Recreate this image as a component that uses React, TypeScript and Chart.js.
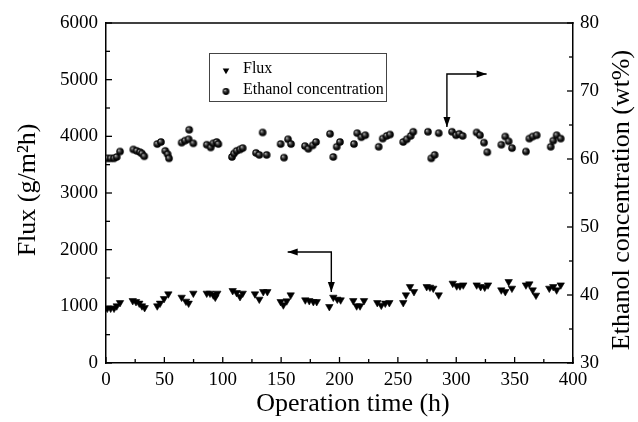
import React, { useEffect, useRef } from 'react';
import { Chart, registerables } from 'chart.js';

Chart.register(...registerables);

// ---------- data ----------
const fluxHours = [1.1, 4.0, 6.9, 9.2, 12.0, 22.9, 25.7, 28.5, 30.8, 33.1, 43.9, 46.3, 49.7, 53.4, 64.8, 68.5, 70.8, 74.8, 86.3, 89.1, 91.9, 93.6, 95.3, 108.5, 111.9, 114.8, 117.1, 127.6, 131.3, 134.7, 138.2, 149.6, 151.9, 154.8, 158.2, 170.7, 174.1, 177.6, 180.5, 191.3, 194.7, 198.1, 201.0, 211.8, 214.7, 217.6, 221.0, 232.4, 235.8, 239.2, 242.7, 254.6, 256.9, 260.4, 263.8, 274.7, 277.5, 280.3, 285.0, 297.0, 300.4, 303.2, 306.0, 317.5, 320.9, 324.4, 327.2, 338.6, 342.0, 344.9, 347.7, 359.7, 362.6, 365.5, 368.3, 379.7, 383.1, 386.0, 389.5];
const fluxValues = [965, 965, 965, 1006, 1064, 1099, 1082, 1054, 1006, 976, 1006, 1054, 1135, 1218, 1159, 1089, 1054, 1230, 1230, 1230, 1200, 1159, 1230, 1276, 1241, 1170, 1230, 1218, 1124, 1258, 1258, 1082, 1024, 1094, 1200, 1112, 1099, 1082, 1082, 994, 1159, 1124, 1112, 1099, 1006, 1006, 1099, 1064, 1018, 1054, 1064, 1064, 1200, 1346, 1258, 1346, 1336, 1318, 1200, 1406, 1359, 1359, 1376, 1376, 1346, 1336, 1376, 1288, 1258, 1435, 1318, 1376, 1394, 1288, 1195, 1318, 1346, 1288, 1376];

const ethanolHours = [1.1, 4.0, 6.9, 9.2, 12.0, 23.4, 26.3, 29.1, 30.8, 32.8, 43.9, 47.1, 50.8, 52.8, 54.0, 64.8, 67.7, 71.3, 70.8, 74.8, 86.3, 89.7, 91.9, 94.8, 96.2, 107.9, 109.6, 111.9, 114.8, 117.1, 128.5, 131.3, 134.2, 137.6, 149.6, 152.5, 155.9, 158.5, 170.4, 173.3, 177.0, 179.9, 191.9, 194.7, 197.6, 200.4, 212.4, 215.2, 218.7, 222.1, 233.6, 237.0, 240.4, 243.3, 254.6, 257.6, 261.0, 263.2, 275.8, 278.6, 281.5, 285.0, 296.4, 299.8, 302.6, 305.5, 317.5, 320.3, 323.8, 326.6, 338.6, 342.0, 344.9, 347.8, 359.7, 362.6, 365.5, 368.9, 380.9, 383.1, 386.0, 389.5];
const ethanolValues = [60.1, 60.1, 60.1, 60.3, 61.1, 61.4, 61.2, 61.0, 60.8, 60.4, 62.2, 62.5, 61.2, 60.7, 60.1, 62.4, 62.7, 64.3, 62.9, 62.3, 62.1, 61.7, 62.3, 62.5, 62.2, 60.3, 60.8, 61.2, 61.4, 61.6, 60.9, 60.6, 63.9, 60.6, 62.2, 60.2, 62.9, 62.2, 61.9, 61.5, 62.0, 62.5, 63.7, 60.3, 61.8, 62.5, 62.2, 63.8, 63.2, 63.5, 61.8, 63.0, 63.4, 63.6, 62.5, 62.9, 63.4, 64.0, 64.0, 60.1, 60.6, 63.8, 64.0, 63.5, 63.7, 63.4, 63.9, 63.5, 62.4, 61.0, 62.1, 63.3, 62.6, 61.6, 61.1, 63.0, 63.3, 63.5, 61.8, 62.7, 63.5, 63.0];

const xTickValues = [0, 50, 100, 150, 200, 250, 300, 350, 400];
const fluxTickValues = [0, 1000, 2000, 3000, 4000, 5000, 6000];
const ethanolTickValues = [30, 40, 50, 60, 70, 80];

const seriesNames = ['Flux', 'Ethanol concentration'];
const xTitle = 'Operation time (h)';
const fluxTitle = 'Flux (g/m\u00B2h)';
const ethanolTitle = 'Ethanol concentration (wt%)';

// arrow paths (in data coordinates)
const fluxArrowHours = [155.6, 193, 193];
const fluxArrowFlux = [1959, 1959, 1253];
const ethanolArrowHours = [326, 292, 292];
const ethanolArrowEthanol = [72.5, 72.5, 64.7];

const FONT = '"Liberation Serif", "Times New Roman", serif';

function makeSphere(r: number): HTMLCanvasElement {
  const size = Math.ceil(r * 2) + 2;
  const c = document.createElement('canvas');
  c.width = size;
  c.height = size;
  const g = c.getContext('2d')!;
  const cx = size / 2, cy = size / 2;
  const grad = g.createRadialGradient(cx - r * 0.35, cy - r * 0.35, 0, cx, cy, r);
  grad.addColorStop(0, '#f4f4f4');
  grad.addColorStop(0.25, '#606060');
  grad.addColorStop(0.65, '#0c0c0c');
  grad.addColorStop(1, '#000');
  g.fillStyle = grad;
  g.beginPath();
  g.arc(cx, cy, r, 0, Math.PI * 2);
  g.fill();
  return c;
}

function drawHead(ctx: CanvasRenderingContext2D, fx: number, fy: number, tx: number, ty: number) {
  const ang = Math.atan2(ty - fy, tx - fx);
  const len = 10, hw = 3.5;
  ctx.beginPath();
  ctx.moveTo(tx, ty);
  ctx.lineTo(tx - len * Math.cos(ang) + hw * Math.sin(ang), ty - len * Math.sin(ang) - hw * Math.cos(ang));
  ctx.lineTo(tx - len * Math.cos(ang) - hw * Math.sin(ang), ty - len * Math.sin(ang) + hw * Math.cos(ang));
  ctx.closePath();
  ctx.fill();
}

function drawArrowPath(ctx: CanvasRenderingContext2D, pts: { x: number; y: number }[]) {
  ctx.beginPath();
  ctx.moveTo(pts[0].x, pts[0].y);
  for (let i = 1; i < pts.length; i++) ctx.lineTo(pts[i].x, pts[i].y);
  ctx.stroke();
  drawHead(ctx, pts[1].x, pts[1].y, pts[0].x, pts[0].y);
  const n = pts.length;
  drawHead(ctx, pts[n - 2].x, pts[n - 2].y, pts[n - 1].x, pts[n - 1].y);
}

const plainNumber = (v: any) => String(v);

export default function App() {
  const ref = useRef<HTMLCanvasElement | null>(null);

  useEffect(() => {
    if (!ref.current) return;
    const sphere = makeSphere(3.8);
    const legendSphere = makeSphere(3.4);

    const decorPlugin = {
      id: 'decor',
      afterDraw(chart: any) {
        const { ctx, chartArea: a, scales } = chart;
        const sx = scales.x, sy = scales.y, sy1 = scales.y1;
        ctx.save();
        ctx.strokeStyle = '#000';
        ctx.fillStyle = '#000';
        // top frame line
        ctx.lineWidth = 1.5;
        ctx.beginPath();
        ctx.moveTo(a.left - 0.75, a.top);
        ctx.lineTo(a.right + 0.75, a.top);
        ctx.stroke();
        // inward ticks
        ctx.lineWidth = 1.3;
        const tickSet = (vals: number[]) => {
          const out: { v: number; major: boolean }[] = [];
          for (let i = 0; i < vals.length; i++) {
            out.push({ v: vals[i], major: true });
            if (i < vals.length - 1) out.push({ v: (vals[i] + vals[i + 1]) / 2, major: false });
          }
          return out;
        };
        tickSet(xTickValues).forEach(t => {
          const px = sx.getPixelForValue(t.v);
          ctx.beginPath();
          ctx.moveTo(px, a.bottom);
          ctx.lineTo(px, a.bottom - (t.major ? 6 : 4));
          ctx.stroke();
        });
        tickSet(fluxTickValues).forEach(t => {
          const py = sy.getPixelForValue(t.v);
          ctx.beginPath();
          ctx.moveTo(a.left, py);
          ctx.lineTo(a.left + (t.major ? 6 : 4), py);
          ctx.stroke();
        });
        tickSet(ethanolTickValues).forEach(t => {
          const py = sy1.getPixelForValue(t.v);
          ctx.beginPath();
          ctx.moveTo(a.right, py);
          ctx.lineTo(a.right - (t.major ? 6 : 4), py);
          ctx.stroke();
        });

        // arrows
        ctx.lineWidth = 1.4;
        drawArrowPath(ctx, fluxArrowHours.map((h, i) => ({ x: sx.getPixelForValue(h), y: sy.getPixelForValue(fluxArrowFlux[i]) })));
        drawArrowPath(ctx, ethanolArrowHours.map((h, i) => ({ x: sx.getPixelForValue(h), y: sy1.getPixelForValue(ethanolArrowEthanol[i]) })));

        // legend
        const lx = 209.5, ly = 53.5, lw = 177, lh = 48;
        ctx.lineWidth = 1;
        ctx.strokeStyle = '#444';
        ctx.strokeRect(lx, ly, lw, lh);
        const tx = 226, ty = 70.5, tr = 3.8;
        ctx.beginPath();
        ctx.moveTo(tx, ty + tr);
        ctx.lineTo(tx + tr * Math.sin(Math.PI / 3), ty - tr / 2);
        ctx.lineTo(tx - tr * Math.sin(Math.PI / 3), ty - tr / 2);
        ctx.closePath();
        ctx.fill();
        ctx.drawImage(legendSphere, 226 - legendSphere.width / 2, 91.5 - legendSphere.height / 2);
        ctx.font = `16px ${FONT}`;
        ctx.textBaseline = 'middle';
        ctx.textAlign = 'left';
        ctx.fillText(seriesNames[0], 243, 69);
        ctx.fillText(seriesNames[1], 243, 90);

        // axis titles
        ctx.font = `26px ${FONT}`;
        ctx.textAlign = 'center';
        ctx.textBaseline = 'middle';
        ctx.fillText(xTitle, 353, 404);
        ctx.save();
        ctx.translate(28, 190);
        ctx.rotate(-Math.PI / 2);
        ctx.fillText(fluxTitle, 0, 0);
        ctx.restore();
        ctx.save();
        ctx.translate(622, 200);
        ctx.rotate(-Math.PI / 2);
        ctx.fillText(ethanolTitle, 0, 0);
        ctx.restore();
        ctx.restore();
      },
    };

    const tickFont = { family: FONT, size: 19 };
    const chart = new Chart(ref.current, {
      type: 'scatter',
      data: {
        datasets: [
          {
            label: seriesNames[0],
            data: fluxHours.map((h, i) => ({ x: h, y: fluxValues[i] })),
            yAxisID: 'y',
            pointStyle: 'triangle',
            rotation: 180,
            pointRadius: 4.3,
            backgroundColor: '#000',
            borderColor: '#000',
            borderWidth: 0.6,
          },
          {
            label: seriesNames[1],
            data: ethanolHours.map((h, i) => ({ x: h, y: ethanolValues[i] })),
            yAxisID: 'y1',
            pointStyle: sphere as any,
            pointRadius: 4,
            backgroundColor: '#000',
            borderColor: '#000',
          },
        ],
      },
      options: {
        animation: false,
        responsive: false,
        layout: { padding: { top: 23, left: 0, right: 0, bottom: 0 } },
        plugins: { legend: { display: false }, tooltip: { enabled: false } },
        scales: {
          x: {
            type: 'linear',
            position: 'bottom',
            min: 0,
            max: 400,
            afterBuildTicks: (s: any) => { s.ticks = xTickValues.map(v => ({ value: v })); },
            afterFit: (s: any) => { s.height = 59; },
            ticks: { font: tickFont, color: '#000', padding: 6, maxRotation: 0, autoSkip: false, callback: plainNumber },
            grid: { display: false, drawTicks: false },
            border: { display: true, color: '#000', width: 1.5 },
            title: { display: false },
          },
          y: {
            type: 'linear',
            position: 'left',
            min: 0,
            max: 6000,
            afterBuildTicks: (s: any) => { s.ticks = fluxTickValues.map(v => ({ value: v })); },
            afterFit: (s: any) => { s.width = 106; },
            ticks: { font: tickFont, color: '#000', padding: 8, autoSkip: false, callback: plainNumber },
            grid: { display: false, drawTicks: false },
            border: { display: true, color: '#000', width: 1.5 },
          },
          y1: {
            type: 'linear',
            position: 'right',
            min: 30,
            max: 80,
            afterBuildTicks: (s: any) => { s.ticks = ethanolTickValues.map(v => ({ value: v })); },
            afterFit: (s: any) => { s.width = 65; },
            ticks: { font: tickFont, color: '#000', padding: 7, autoSkip: false, callback: plainNumber },
            grid: { display: false, drawTicks: false },
            border: { display: true, color: '#000', width: 1.5 },
          },
        },
      },
      plugins: [decorPlugin],
    });
    return () => chart.destroy();
  }, []);

  return (
    <div style={{ position: 'absolute', left: 0, top: 0, width: 638, height: 422, background: '#fff' }}>
      <canvas ref={ref} width={638} height={422} style={{ display: 'block' }} />
    </div>
  );
}
